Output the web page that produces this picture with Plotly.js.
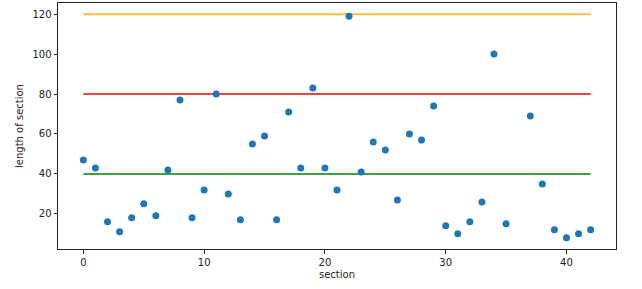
<!DOCTYPE html>
<html>
<head>
<meta charset="utf-8">
<script src="https://cdn.plot.ly/plotly-3.0.1.min.js"></script>
<style>html,body{margin:0;padding:0;background:#fff;}#chart{width:642px;height:289px;}</style>
</head>
<body>
<div id="chart"></div>
<script>
const sections = [0,1,2,3,4,5,6,7,8,9,10,11,12,13,14,15,16,17,18,19,20,21,22,23,24,25,26,27,28,29,30,31,32,33,34,35,37,38,39,40,41,42];
const lengths = [47,43,16,11,18,25,19,42,77,18,32,80,30,17,55,59,17,71,43,83,43,32,119,41,56,52,27,60,57,74,14,10,16,26,100,15,69,35,12,8,10,12];
const lineX = [0, 42];
const thresholds = [40, 80, 120];
const thresholdColors = ['green', 'red', 'orange'];
const lineColorHex = {green: '#40a040', red: '#ff4040', orange: '#ffbc40'};

const traces = [];
thresholds.forEach((t, i) => {
  traces.push({
    x: lineX, y: [t, t], mode: 'lines', type: 'scatter',
    line: {color: lineColorHex[thresholdColors[i]], width: 2},
    hoverinfo: 'skip', showlegend: false
  });
});
traces.push({
  x: sections, y: lengths, mode: 'markers', type: 'scatter',
  marker: {color: '#1f77b4', size: 7},
  showlegend: false
});

const axisCommon = {
  showgrid: false, zeroline: false, showline: true, mirror: true,
  linecolor: '#222', linewidth: 1, ticks: 'outside', ticklen: 3.5, tickwidth: 1, tickcolor: '#222',
  tickfont: {family: 'DejaVu Sans', size: 10, color: '#222'}
};

const layout = {
  width: 642, height: 289,
  margin: {l: 58, r: 26, t: 3, b: 40},
  paper_bgcolor: '#fff', plot_bgcolor: '#fff',
  font: {family: 'DejaVu Sans', size: 10, color: '#222'},
  xaxis: Object.assign({}, axisCommon, {
    range: [-2.1, 44.1], tickvals: [0,10,20,30,40],
    title: {text: 'section', font: {family: 'DejaVu Sans', size: 10, color: '#222'}, standoff: 4}
  }),
  yaxis: Object.assign({}, axisCommon, {
    range: [2.4, 125.6], tickvals: [20,40,60,80,100,120],
    title: {text: 'length of section', font: {family: 'DejaVu Sans', size: 10, color: '#222'}, standoff: 6}
  })
};

Plotly.newPlot('chart', traces, layout, {displayModeBar: false, staticPlot: true});
</script>
</body>
</html>
